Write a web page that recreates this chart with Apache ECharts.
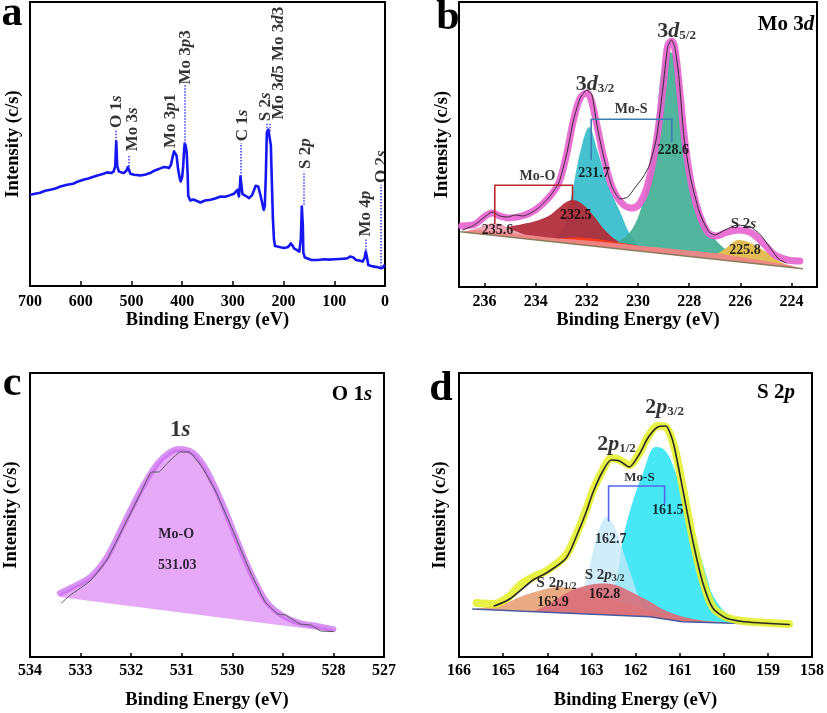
<!DOCTYPE html>
<html><head><meta charset="utf-8">
<script src="https://cdn.jsdelivr.net/npm/echarts@6/dist/echarts.min.js"></script>
<style>html,body{margin:0;padding:0;background:#fff}#c{width:827px;height:713px}</style>
</head><body><div id="c"></div>
<script>
const FONT = '"Liberation Serif","Times New Roman",serif';

// ---------- Panel a: survey spectrum [BE, intensity] ----------
const surveyData = [[700,273],[690,276],[680,279],[670,285],[660,288],[650,292],[640,298],[627,303],[615,306],[605,313],[595,318],[585,322],[575,327],[562,333],[555,336],[548,340],[540,338],[535,343],[532,358],[530,433],[528,360],[525,343],[520,340],[515,338],[510,345],[507,356],[502,336],[495,333],[482,331],[472,334],[463,338],[455,345],[450,348],[443,352],[436,356],[430,355],[426,353],[422,363],[419,385],[416,403],[413,400],[411,390],[408,350],[405,325],[403,313],[400,325],[398,358],[396,410],[395,426],[393,420],[391,400],[389,330],[388,270],[384,256],[378,259],[372,255],[364,250],[355,256],[344,258],[335,262],[324,268],[315,267],[305,272],[298,276],[291,288],[288,268],[286,300],[285,328],[283,300],[281,275],[275,270],[268,263],[262,272],[258,288],[255,300],[253,305],[250,298],[245,268],[241,240],[239,228],[237,240],[235,330],[233,460],[230,468],[227,463],[225,420],[224,360],[221,200],[219,140],[217,120],[212,118],[206,116],[199,114],[192,116],[188,122],[186,128],[182,120],[179,112],[174,108],[169,103],[166,140],[164,238],[162,180],[161,100],[158,85],[156,80],[145,78],[133,78],[120,80],[110,79],[100,80],[90,81],[80,82],[74,83],[69,88],[66,90],[62,85],[57,78],[50,76],[44,73],[40,85],[38,103],[36,90],[33,63],[27,60],[21,58],[14,56],[8,53],[4,55],[1,63]];
const aPeakNames = ['{r|O 1}{i|s}','{r|Mo 3}{i|s}','{r|Mo 3}{i|p}{r|1}','{r|Mo 3}{i|p}{r|3}','{r|C 1}{i|s}','{r|S 2}{i|s}','{r|Mo 3}{i|d}{r|5 Mo 3}{i|d}{r|3}','{r|S 2}{i|p}','{r|Mo 4}{i|p}','{r|O 2}{i|s}'];
const aLabelBE = [530, 497, 422, 393.5, 280, 235.3, 209, 156.2, 37.6, 6.6];
const aLabelI  = [473, 403, 413, 603, 433, 493, 498, 350, 148, 308];
const aDots = [[530,433,470],[506,358,393],[395,426,603],[285,328,428],[233.4,463,488],[226.7,463,488],[160.8,243,343],[37.6,108,143],[7.9,58,303]];

// ---------- Panel b: Mo 3d ----------
const bTicks = [224,226,228,230,232,234,236];
const bBaseline = [[236.95,55.3],[223.55,18.2]];
const bPinkBand = [[236.85,55],[236.5,57],[236,56.6],[235,53.9],[234,51.1],[233,48.4],[232,46.4],[231,44],[230,41.5],[229,39],[228,36.5],[227,34],[226,30],[225,26],[224,21.5],[223.65,18.5]];
const bMoO2 = [[236.85,55],[236.4,58],[235.95,62],[235.65,64],[235.3,62],[234.9,57],[234.4,52],[233.9,47]];
const bBrightRed = [[233.6,46.3],[233,48.5],[232.3,49.5],[231.5,47.5],[230.5,43.5],[229.5,39],[228.8,35.5],[228.2,31.2]];
const bMoO1 = [[236.0,52.6],[235.5,57],[235.0,60.5],[234.5,63],[234.0,66],[233.5,71],[233.1,79],[232.8,85],[232.55,87],[232.3,85],[232.0,79],[231.7,70],[231.4,60],[231.1,52],[230.8,46],[230.4,40],[230.0,36.1]];
const bMoS1 = [[233.4,45],[233.0,55],[232.8,70],[232.56,97],[232.24,137],[231.91,160],[231.59,137],[231.2,104],[230.9,86],[230.68,74],[230.4,57],[230.1,45],[229.7,38],[229.3,34.5]];
const bMoS2 = [[231.2,40],[230.77,45],[230.25,57],[229.86,80],[229.53,117],[229.27,167],[229.07,217],[228.75,235],[228.42,224],[228.29,184],[228.1,134],[227.77,90],[227.38,64],[226.86,44],[226.21,32],[225.6,26],[225.0,22.5]];
const bS2s = [[227.2,28.7],[226.86,33.7],[226.5,40],[226.08,47],[225.6,44],[224.9,33.7],[224.5,26],[224.0,20.5]];
const bEnvelope = [[236.9,61],[236.36,63],[235.97,71],[235.7,74],[235.4,71],[235.06,69],[234.54,71],[234.02,77],[233.5,89],[233.1,104],[232.78,134],[232.52,167],[232.26,189],[232.0,194],[231.83,187],[231.6,161],[231.35,131],[231.03,101],[230.64,84],[230.25,79],[229.92,84],[229.6,104],[229.27,147],[229.0,204],[228.84,241],[228.69,246],[228.56,239],[228.36,194],[228.16,144],[227.9,101],[227.58,71],[227.25,54],[226.93,51],[226.6,54],[226.08,57],[225.56,54],[225.04,42],[224.65,32],[224.13,27],[223.67,26]];
const bRaw = [[236.85,57],[236.4,62],[235.95,71],[235.7,75],[235.4,71],[235.1,70],[234.8,72],[234.5,71],[234.0,77],[233.5,89],[233.1,104],[232.78,134],[232.52,167],[232.26,189],[232.0,197],[231.8,192],[231.6,161],[231.35,131],[231.03,101],[230.7,88],[230.4,90],[230.1,100],[229.8,110],[229.55,122],[229.27,150],[229.0,205],[228.84,240],[228.69,247],[228.56,240],[228.4,210],[228.2,150],[227.95,110],[227.6,75],[227.25,56],[227.0,52],[226.6,57],[226.1,62],[225.6,60],[225.2,52],[224.8,38],[224.5,28],[224.2,24]];
const bMoOBracket = [[235.6,63.7],[235.6,101.7],[232.56,101.7],[232.56,80.3]];
const bMoSBracket = [[231.83,127.7],[231.83,167.7],[228.68,167.7],[228.68,145.3]];
const bLabels = [
  ['{n|3}{ni|d}{s|3/2}',231.68,205],['{n|3}{ni|d}{s|5/2}',228.49,258],
  ['{t|Mo-S}',230.27,178],['{t|Mo-O}',233.93,111],
  ['{t|231.7}',231.72,114],['{t|228.6}',228.62,137],['{t|235.6}',235.49,57],
  ['{t|232.5}',232.43,72],['{t|225.8}',225.82,37],['{m|S 2}{mi|s}',225.88,65]];

// ---------- Panel c: O 1s ----------
const cEnvelope = [[533.41,63.7],[533.2,69],[532.81,80],[532.48,100],[532.15,133],[531.82,166],[531.49,193],[531.23,205],[531.03,208],[530.77,204],[530.57,192],[530.38,174],[530.15,148],[529.98,126],[529.65,86],[529.32,55],[528.99,41],[528.66,34],[528.33,31],[528.0,27.7]];
const cBaseline = [[533.5,60.6],[527.92,24.5]];
const cRaw = [[533.38,54],[533.2,62],[532.81,76],[532.48,97],[532.15,130],[531.82,163],[531.6,185],[531.45,185],[531.3,193],[531.03,205],[530.85,205],[530.6,190],[530.35,168],[530.0,128],[529.65,86],[529.35,55],[529.1,43],[528.95,42],[528.66,33],[528.45,32],[528.25,26],[528.0,25.5]];
const cLabels = [['{n2|1}{ni2|s}',531.03,227],['{t|Mo-O}',531.11,123],['{t|531.03}',531.09,92]];

// ---------- Panel d: S 2p ----------
const dBaseline = [[165.7,47.9],[161.68,40.3],[160.93,35.3],[158.45,31.9]];
const dS2p12 = [[165.6,48.5],[165.0,53],[164.62,60],[164.2,66],[163.72,70],[163.3,68],[162.9,63],[162.5,57],[162.0,50],[161.5,45],[161.0,40],[160.5,36.5],[160.0,35]];
const dS2p32 = [[164.3,46],[164.0,52],[163.6,63],[163.3,69],[163.0,72.5],[162.74,73.5],[162.45,72],[162.14,66],[161.7,56],[161.3,46],[160.9,40],[160.5,36.5],[160.2,35]];
const dMoS1 = [[163.4,44],[163.11,77],[162.96,107],[162.81,130],[162.66,140],[162.47,130],[162.29,107],[162.06,77],[161.9,57],[161.7,42]];
const dMoS2 = [[162.9,43],[162.59,57],[162.4,84],[162.29,117],[162.1,150],[161.83,184],[161.55,210],[161.4,209],[161.2,197],[160.85,150],[160.55,105],[160.37,78],[160.25,62],[159.95,44],[159.65,37],[159.3,34.8]];
const dEnvelope = [[165.6,54],[165.2,53],[164.85,61],[164.62,72],[164.32,80],[164.02,86],[163.57,102],[163.27,130],[163.11,148],[162.96,167],[162.74,187],[162.55,199],[162.36,197],[162.14,192],[161.91,204],[161.72,220],[161.5,231],[161.31,230],[161.12,210],[160.93,170],[160.71,120],[160.48,77],[160.25,50],[159.95,40],[159.58,36],[159.12,34.5],[158.52,33]];
const dRaw = [[165.2,51],[164.85,58],[164.32,77],[164.02,84],[163.57,99],[163.27,128],[163.11,146],[162.96,165],[162.74,186],[162.55,197],[162.36,196],[162.14,190],[161.91,203],[161.72,219],[161.5,230],[161.31,231],[161.2,222],[161.12,210],[160.93,168],[160.71,118],[160.48,75],[160.25,49],[159.95,39],[159.58,35.5],[159.12,34],[158.52,32.5]];
const dMoSBracket = [[162.61,136.3],[162.61,171],[161.34,171],[161.34,153.7]];
const dLabels = [
  ['{n|2}{ni|p}{s|1/2}',162.43,215],['{n|2}{ni|p}{s|3/2}',161.34,252],
  ['{t13|Mo-S}',161.91,179],['{t|161.5}',161.27,147],['{t|162.7}',162.56,118],
  ['{m|S 2}{mi|p}{ms|3/2}',162.70,84],['{t|162.8}',162.70,63],
  ['{m|S 2}{mi|p}{ms|1/2}',163.79,76],['{t|163.9}',163.87,55]];

// ---------- styles ----------
const B = {fontFamily:FONT, fontWeight:'bold', color:'#000'};
const RICH = {
  r:  Object.assign({fontSize:17}, B), i: Object.assign({fontSize:17, fontStyle:'italic'}, B),
  t:  Object.assign({fontSize:14}, B), t13: Object.assign({fontSize:13}, B),
  m:  Object.assign({fontSize:15, lineHeight:20, verticalAlign:'bottom'}, B),
  mi: Object.assign({fontSize:15, lineHeight:20, verticalAlign:'bottom', fontStyle:'italic'}, B),
  ms: Object.assign({fontSize:10, lineHeight:8, verticalAlign:'bottom'}, B),
  n:  Object.assign({fontSize:22, lineHeight:26, verticalAlign:'bottom'}, B),
  ni: Object.assign({fontSize:22, lineHeight:26, verticalAlign:'bottom', fontStyle:'italic'}, B),
  s:  Object.assign({fontSize:13, lineHeight:11, verticalAlign:'bottom'}, B),
  n2: Object.assign({fontSize:23}, B), ni2: Object.assign({fontSize:23, fontStyle:'italic'}, B)
};

function area(data, xi, color, smooth) {
  return {type:'line', xAxisIndex:xi, yAxisIndex:xi, data, symbol:'none', smooth: smooth==null?0.35:smooth, silent:true,
    lineStyle:{width:0, opacity:0}, areaStyle:{color, opacity:1, origin:4}};
}
function line(data, xi, color, width, smooth, opacity) {
  return {type:'line', xAxisIndex:xi, yAxisIndex:xi, data, symbol:'none', smooth: smooth||false, silent:true,
    lineStyle:{color, width, opacity: opacity==null?1:opacity, cap:'round', join:'round'}};
}
function labels(items, xi, rotate) {
  return {type:'scatter', xAxisIndex:xi, yAxisIndex:xi, symbolSize:1, itemStyle:{color:'rgba(0,0,0,0)'}, silent:true, z:6,
    data: items.map(d => ({name:d[0], value:[d[1], d[2]]})),
    label:{show:true, position:'inside', color:'#000', formatter:p=>p.name, rotate: rotate||0,
      align: rotate ? 'left' : 'center', verticalAlign:'middle', rich:RICH}};
}
function xAxis(gi, min, max, extra, gap, margin) {
  return Object.assign({type:'value', gridIndex:gi, min, max, inverse:true,
    axisLine:{show:false}, splitLine:{show:false},
    axisTick:{show:true, inside:true, length:5, lineStyle:{color:'#000', width:1.5}},
    axisLabel:{color:'#000', fontFamily:FONT, fontWeight:'bold', fontSize:16, margin},
    name:'Binding Energy (eV)', nameLocation:'middle', nameGap:gap,
    nameTextStyle:{color:'#000', fontFamily:FONT, fontWeight:'bold', fontSize:18.5}}, extra);
}
function yAxis(gi, max, gap) {
  return {type:'value', gridIndex:gi, min:0, max, axisLine:{show:false}, axisTick:{show:false},
    axisLabel:{show:false}, splitLine:{show:false},
    name:'Intensity (c/s)', nameLocation:'middle', nameGap:gap,
    nameTextStyle:{color:'#000', fontFamily:FONT, fontWeight:'bold', fontSize:18.5}};
}
const gridBase = {show:true, borderColor:'#000', borderWidth:2, backgroundColor:'transparent', containLabel:false};

const series = [];
// a
series.push({type:'line', xAxisIndex:0, yAxisIndex:0, data:surveyData, symbol:'none', silent:true,
  lineStyle:{color:'#1616f2', width:2.6, join:'round'},
  markLine:{silent:true, symbol:['none','none'], animation:false, label:{show:false},
    lineStyle:{type:'dotted', color:'#3838ff', width:1.5},
    data: aDots.map(d => [{coord:[d[0], d[1]]}, {coord:[d[0], d[2]]}])}});
series.push(labels(aPeakNames.map((t,k)=>[t, aLabelBE[k], aLabelI[k]]), 0, 90));
// b
series.push(area(bMoS1, 1, 'rgba(60,190,206,0.95)'));
series.push(area(bMoO1, 1, 'rgba(178,42,56,0.93)'));
series.push(area(bMoS2, 1, 'rgba(62,172,146,0.9)'));
series.push(area(bS2s, 1, '#e2bd55'));
series.push(area(bBrightRed, 1, '#ff3a1c'));
series.push(area(bMoO2, 1, '#f3a5b3'));
series.push(area(bPinkBand, 1, 'rgba(238,135,135,0.95)', 0.2));
series.push(Object.assign(area(bBaseline, 1, '#ffffff', false), {lineStyle:{color:'#8a7c5c', width:1.5}}));
series.push(line(bEnvelope, 1, '#e862cf', 7, 0.35, 0.9));
series.push(line(bRaw, 1, '#3a2a36', 1, 0.2));
series.push(line(bMoOBracket, 1, '#c0272d', 1.6));
series.push(line(bMoSBracket, 1, '#3a7fb0', 1.6));
series.push(labels(bLabels, 1));
// c
series.push(area(cEnvelope, 2, '#e5a9f8', 0.3));
series.push(area(cBaseline, 2, '#ffffff', false));
series.push(line(cEnvelope, 2, 'rgba(200,100,240,0.7)', 6, 0.3));
series.push(line(cRaw, 2, '#555', 1, 0.1));
series.push(labels(cLabels, 2));
// d
series.push(area(dMoS2, 3, 'rgba(45,228,245,0.88)'));
series.push(area(dMoS1, 3, 'rgba(195,232,247,0.78)'));
series.push(area(dS2p12, 3, 'rgba(233,165,125,0.95)'));
series.push(area(dS2p32, 3, 'rgba(217,110,122,0.9)'));
series.push(Object.assign(area(dBaseline, 3, '#ffffff', false), {lineStyle:{color:'#4a5aa0', width:1.5}}));
series.push(line(dEnvelope, 3, 'rgba(230,240,50,0.9)', 8, 0.3));
series.push(line(dRaw, 3, '#2a2a20', 1.6, 0.25));
series.push(line(dMoSBracket, 3, '#5566e8', 1.6));
series.push(labels(dLabels, 3));

function gtext(text, x, y, size, rich) {
  const st = {text, x, y, fill:'#000', font:'bold '+size+'px '+FONT, align:'center', verticalAlign:'middle'};
  if (rich) st.rich = rich;
  return {type:'text', x:0, y:0, silent:true, style:st, z:10};
}
const TR = {a:Object.assign({fontSize:21},B), b:Object.assign({fontSize:21, fontStyle:'italic'},B)};

const chart = echarts.init(document.getElementById('c'));
chart.setOption({
  animation:false,
  backgroundColor:'#fff',
  grid:[
    Object.assign({left:30, top:2, width:355, height:284}, gridBase),
    Object.assign({left:459, top:2, width:358, height:285}, gridBase),
    Object.assign({left:30, top:373, width:354, height:284}, gridBase),
    Object.assign({left:459, top:373, width:354, height:284}, gridBase)
  ],
  xAxis:[
    xAxis(0, 0, 700, {interval:100}, 23, 8),
    xAxis(1, 223, 237, {axisTick:{show:true, inside:true, length:5, lineStyle:{color:'#000', width:1.5}, customValues:bTicks},
      axisLabel:{color:'#000', fontFamily:FONT, fontWeight:'bold', fontSize:16, margin:7, customValues:bTicks}}, 22, 7),
    xAxis(2, 527, 534, {interval:1}, 34, 6),
    xAxis(3, 158, 166, {interval:1}, 34, 6)
  ],
  yAxis:[ yAxis(0, 850, 7), yAxis(1, 285, 7), yAxis(2, 284, 9), yAxis(3, 284, 9) ],
  graphic:[
    gtext('a', 12, 14, 42), gtext('b', 448, 18, 42), gtext('c', 12, 384, 42), gtext('d', 441, 389, 42),
    gtext('{a|Mo 3}{b|d}', 786, 25, 21, TR), gtext('{a|O 1}{b|s}', 352, 395, 21, TR), gtext('{a|S 2}{b|p}', 776, 393, 21, TR)
  ],
  series
});
</script></body></html>
